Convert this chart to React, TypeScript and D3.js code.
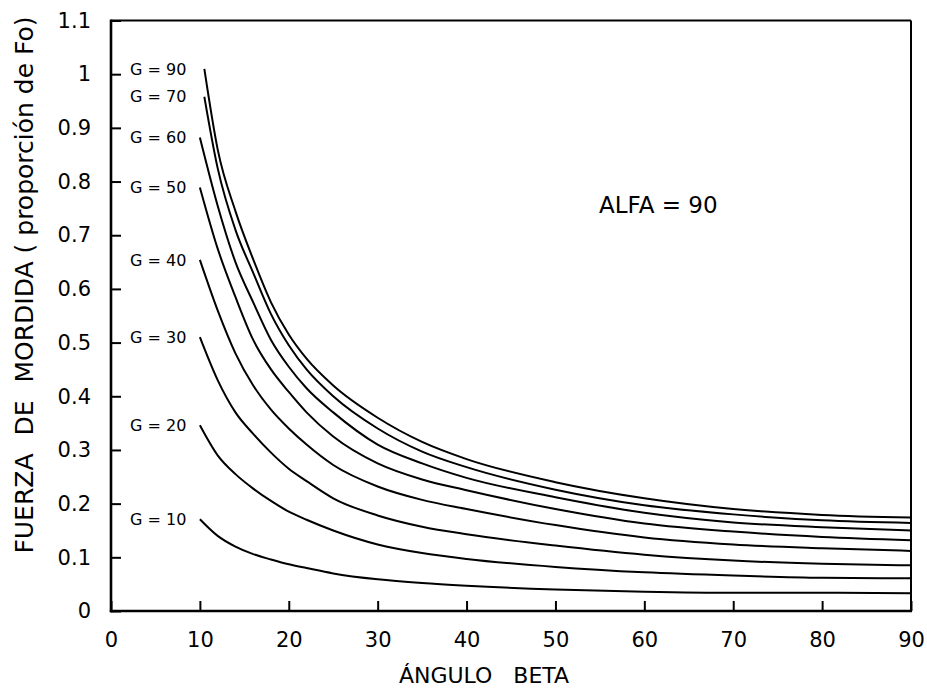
import React, { useEffect, useRef } from 'react';
import * as d3 from 'd3';

const betaAngles = [10, 12, 14, 16, 18, 20, 22, 25, 30, 35, 40, 50, 60, 70, 80, 90];

const gLabels = ['G = 90', 'G = 70', 'G = 60', 'G = 50', 'G = 40', 'G = 30', 'G = 20', 'G = 10'];
// first beta of each curve (the two top ones start a bit later)
const startBeta = [10.5, 10.5, 10, 10, 10, 10, 10, 10];

const forceG90 = [1.01, 0.86, 0.745, 0.655, 0.575, 0.515, 0.47, 0.42, 0.36, 0.315, 0.283, 0.24, 0.21, 0.19, 0.179, 0.174];
const forceG70 = [0.958, 0.825, 0.71, 0.63, 0.553, 0.495, 0.45, 0.4, 0.34, 0.297, 0.268, 0.226, 0.197, 0.18, 0.169, 0.164];
const forceG60 = [0.882, 0.755, 0.65, 0.575, 0.505, 0.455, 0.415, 0.37, 0.31, 0.275, 0.248, 0.212, 0.183, 0.165, 0.156, 0.15];
const forceG50 = [0.789, 0.675, 0.585, 0.505, 0.45, 0.408, 0.37, 0.325, 0.275, 0.245, 0.225, 0.19, 0.163, 0.148, 0.138, 0.132];
const forceG40 = [0.654, 0.56, 0.48, 0.42, 0.375, 0.34, 0.31, 0.272, 0.232, 0.207, 0.19, 0.16, 0.137, 0.124, 0.117, 0.112];
const forceG30 = [0.51, 0.43, 0.37, 0.33, 0.295, 0.265, 0.242, 0.21, 0.178, 0.157, 0.143, 0.122, 0.105, 0.094, 0.088, 0.085];
const forceG20 = [0.346, 0.29, 0.255, 0.228, 0.205, 0.185, 0.17, 0.15, 0.124, 0.108, 0.097, 0.082, 0.072, 0.066, 0.062, 0.061];
const forceG10 = [0.171, 0.14, 0.12, 0.106, 0.096, 0.087, 0.08, 0.07, 0.059, 0.052, 0.047, 0.04, 0.036, 0.034, 0.034, 0.033];

const seriesValues = [forceG90, forceG70, forceG60, forceG50, forceG40, forceG30, forceG20, forceG10];

const xTicks = [0, 10, 20, 30, 40, 50, 60, 70, 80, 90];
const yTicks = [0, 0.1, 0.2, 0.3, 0.4, 0.5, 0.6, 0.7, 0.8, 0.9, 1, 1.1];
const yTickLabels = ['0', '0.1', '0.2', '0.3', '0.4', '0.5', '0.6', '0.7', '0.8', '0.9', '1', '1.1'];

const FONT = '"DejaVu Sans", Verdana, sans-serif';

export default function App() {
    const svgRef = useRef<SVGSVGElement>(null);
    const width = 927;
    const height = 690;

    useEffect(() => {
        const svg = d3.select(svgRef.current);
        svg.selectAll('*').remove();

        const margin = { top: 20.5, right: 16, bottom: 79, left: 111 };
        const x = d3.scaleLinear().domain([0, 90]).range([margin.left, width - margin.right]);
        const y = d3.scaleLinear().domain([0, 1.1]).range([height - margin.bottom, margin.top]);
        const [x0, x1] = x.range();
        const [y0, y1] = y.range();

        // y axis, ticks pointing inward
        const yAxis = svg.append('g')
            .attr('transform', `translate(${x0},0)`)
            .call(d3.axisLeft(y)
                .tickValues(yTicks)
                .tickSize(-10)
                .tickPadding(20)
                .tickFormat((d, i) => yTickLabels[i])
            );
        yAxis.select('.domain').remove();
        yAxis.selectAll('line').attr('stroke', '#000').attr('stroke-width', 2);
        yAxis.selectAll('text')
            .attr('fill', '#000')
            .style('font-family', FONT)
            .style('font-size', '21px');

        // x axis
        const xAxis = svg.append('g')
            .attr('transform', `translate(0,${y0})`)
            .call(d3.axisBottom(x)
                .tickValues(xTicks)
                .tickSize(-10)
                .tickPadding(21)
                .tickFormat(d3.format('d'))
            );
        xAxis.select('.domain').remove();
        xAxis.selectAll('line').attr('stroke', '#000').attr('stroke-width', 2);
        xAxis.selectAll('text')
            .attr('fill', '#000')
            .style('font-family', FONT)
            .style('font-size', '21px');

        // frame
        const frame = svg.append('g').attr('stroke', '#000').attr('fill', 'none');
        frame.append('line').attr('x1', x0).attr('x2', x1).attr('y1', y1).attr('y2', y1).attr('stroke-width', 2);
        frame.append('line').attr('x1', x1).attr('x2', x1).attr('y1', y1).attr('y2', y0).attr('stroke-width', 2);
        frame.append('line').attr('x1', x0).attr('x2', x0).attr('y1', y1 - 1).attr('y2', y0 + 1.2).attr('stroke-width', 2.6);
        frame.append('line').attr('x1', x0 - 1.2).attr('x2', x1 + 1).attr('y1', y0).attr('y2', y0).attr('stroke-width', 2.6);

        // curves
        const line = d3.line<[number, number]>()
            .x(d => x(d[0]))
            .y(d => y(d[1]))
            .curve(d3.curveMonotoneX);

        seriesValues.forEach((vals, i) => {
            const pts: [number, number][] = vals.map((v, j) => [j === 0 ? startBeta[i] : betaAngles[j], v]);
            svg.append('path')
                .datum(pts)
                .attr('fill', 'none')
                .attr('stroke', '#000')
                .attr('stroke-width', 2)
                .attr('d', line);

            svg.append('text')
                .attr('x', 130)
                .attr('y', y(vals[0]))
                .attr('dy', '0.36em')
                .style('font-family', FONT)
                .style('font-size', '16px')
                .text(gLabels[i]);
        });

        // annotation
        svg.append('text')
            .attr('x', 599)
            .attr('y', 213)
            .style('font-family', FONT)
            .style('font-size', '23px')
            .text('ALFA = 90');

        // axis titles
        svg.append('text')
            .attr('x', 484)
            .attr('y', 683)
            .attr('text-anchor', 'middle')
            .style('font-family', FONT)
            .style('font-size', '22px')
            .style('word-spacing', '14px')
            .text('ÁNGULO BETA');

        const yTitle = svg.append('text')
            .attr('transform', `translate(33,285) rotate(-90)`)
            .attr('text-anchor', 'middle')
            .style('font-family', FONT)
            .style('font-size', '25px');
        yTitle.append('tspan').text('FUERZA ');
        yTitle.append('tspan').attr('dx', 10).text('DE ');
        yTitle.append('tspan').attr('dx', 10).text('MORDIDA ( proporción de Fo)');
    }, []);

    return (
        <div style={{ position: 'absolute', left: 0, top: 0, background: '#fff' }}>
            <svg ref={svgRef} width={width} height={height} style={{ display: 'block' }} />
        </div>
    );
}
